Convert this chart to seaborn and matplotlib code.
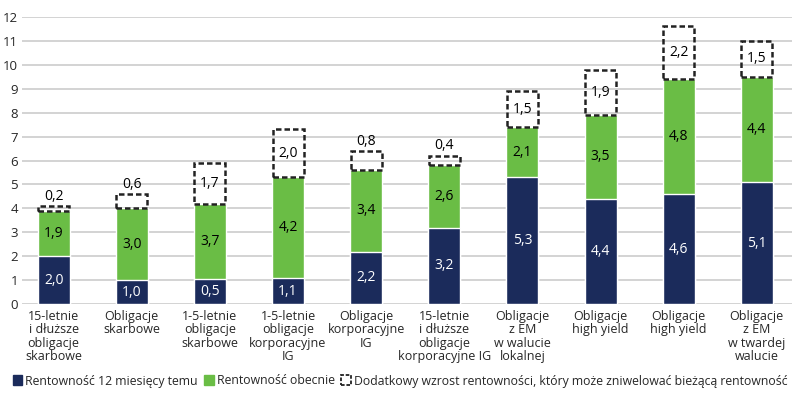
import matplotlib
matplotlib.use('Agg')
import matplotlib.pyplot as plt
import seaborn as sns
import numpy as np
from matplotlib.patches import Patch

categories = [
    "15-letnie\ni dłuższe\nobligacje\nskarbowe",
    "Obligacje\nskarbowe",
    "1-5-letnie\nobligacje\nskarbowe",
    "1-5-letnie\nobligacje\nkorporacyjne\nIG",
    "Obligacje\nkorporacyjne\nIG",
    "15-letnie\ni dłuższe\nobligacje\nkorporacyjne IG",
    "Obligacje\nz EM\nw walucie\nlokalnej",
    "Obligacje\nhigh yield",
    "Obligacje\nhigh yield",
    "Obligacje\nz EM\nw twardej\nwalucie",
]
# labelled values
yield_12m_ago = [2.0, 1.0, 0.5, 1.1, 2.2, 3.2, 5.3, 4.4, 4.6, 5.1]
yield_now = [1.9, 3.0, 3.7, 4.2, 3.4, 2.6, 2.1, 3.5, 4.8, 4.4]
extra_rise = [0.2, 0.6, 1.7, 2.0, 0.8, 0.4, 1.5, 1.9, 2.2, 1.5]
# navy bar heights as drawn in the source (3rd one is drawn taller than its label)
navy_drawn = [2.0, 1.0, 1.05, 1.1, 2.2, 3.2, 5.3, 4.4, 4.6, 5.1]

legend_labels = [
    "Rentowność 12 miesięcy temu",
    "Rentowność obecnie",
    "Dodatkowy wzrost rentowności, który może zniwelować bieżącą rentowność",
]

NAVY = "#1b2b5b"
GREEN = "#6abd45"
BAR_W = 0.41

sns.set_style("white")
plt.rcParams['font.family'] = ['Open Sans', 'DejaVu Sans']

fig = plt.figure(figsize=(8, 3.93), dpi=100)
ax = fig.add_axes([0.028, 0.226, 0.962, 0.731])

x = np.arange(len(categories))
blue = np.array(yield_12m_ago)
green = np.array(yield_now)
extra = np.array(extra_rise)
navy_h = np.array(navy_drawn)
top_green = blue + green

# stacked look: cumulative green first, navy on top of it
sns.barplot(x=x, y=top_green, color=GREEN, width=BAR_W, saturation=1,
            ax=ax, zorder=2, native_scale=True)
sns.barplot(x=x, y=navy_h, color=NAVY, width=BAR_W, saturation=1,
            ax=ax, zorder=3, native_scale=True)

# dashed boxes for the extra rise
ax.bar(x, extra, bottom=top_green, width=BAR_W * 0.97, fill=False,
       edgecolor="#222222", linestyle=(0, (2.2, 1.2)), linewidth=1.8, zorder=4)

# value labels
for i in range(len(x)):
    ax.text(x[i], navy_h[i] / 2, f"{blue[i]:.1f}".replace(".", ","),
            ha="center", va="center", color="white", fontsize=10, zorder=5)
    ax.text(x[i], (navy_h[i] + top_green[i]) / 2, f"{green[i]:.1f}".replace(".", ","),
            ha="center", va="center", color="black", fontsize=10, zorder=5)
    lab = f"{extra[i]:.1f}".replace(".", ",")
    if extra[i] >= 1.0:
        ax.text(x[i], top_green[i] + extra[i] / 2, lab,
                ha="center", va="center", color="black", fontsize=10, zorder=5)
    else:
        ax.text(x[i], top_green[i] + extra[i] + 0.1, lab,
                ha="center", va="bottom", color="black", fontsize=10, zorder=5)

ax.set_xlim(-0.4, 9.45)
ax.set_ylim(0, 12)
ax.set_yticks(range(0, 13))
ax.yaxis.grid(True, color="#d0d0d0", linewidth=1.3, zorder=0)
ax.set_axisbelow(True)
for s in ax.spines.values():
    s.set_visible(False)

ax.set_xticks(x)
ax.set_xticklabels(categories, fontsize=9, linespacing=1.05, ha="center")
ax.tick_params(axis="x", length=0, pad=4)
ax.tick_params(axis="y", length=0, pad=3, labelsize=9.5)
ax.set_xlabel("")
ax.set_ylabel("")

handles = [
    Patch(facecolor=NAVY, edgecolor=NAVY),
    Patch(facecolor=GREEN, edgecolor=GREEN),
    Patch(facecolor="white", edgecolor="#222222", linestyle=(0, (2, 1)), linewidth=1.3),
]
fig.legend(handles, legend_labels, loc="center", bbox_to_anchor=(0.5, 12 / 393),
           ncol=3, frameon=False, fontsize=8.8, handlelength=0.8, handleheight=0.9,
           handletextpad=0.25, columnspacing=0.5, borderaxespad=0)

plt.savefig("out.png", dpi=100)
plt.close(fig)
